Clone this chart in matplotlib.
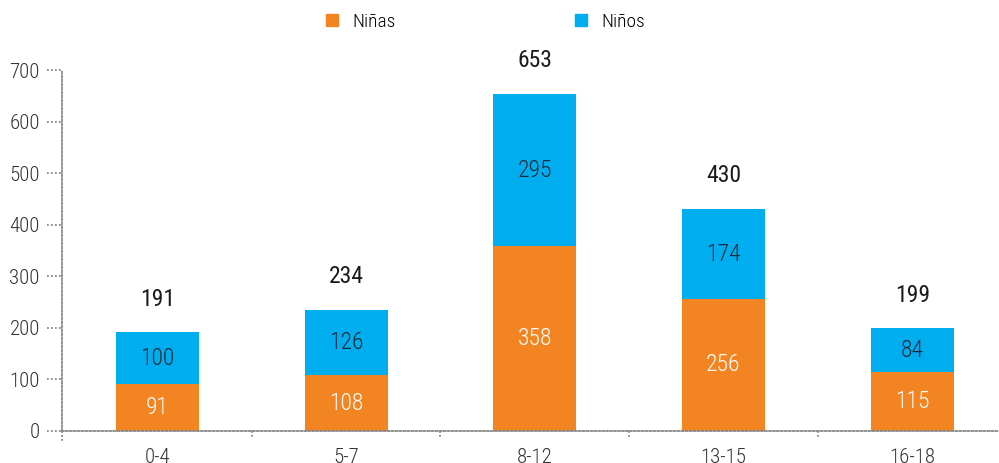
import matplotlib
matplotlib.use("Agg")
import matplotlib.pyplot as plt
from matplotlib.patches import Patch
import numpy as np

categories = ["0-4", "5-7", "8-12", "13-15", "16-18"]
ninas = [91, 108, 358, 256, 115]
ninos = [100, 126, 295, 174, 84]
totals = [191, 234, 653, 430, 199]
yticks = [0, 100, 200, 300, 400, 500, 600, 700]

ORANGE = "#F28522"
BLUE = "#00AEEF"
FONT = ["Roboto Condensed", "DejaVu Sans"]
plt.rcParams["font.family"] = FONT

fig = plt.figure(figsize=(9.99, 4.63), dpi=100)
ax = fig.add_axes([62/999, 32/463, 937/999, 361/463])

x = np.arange(len(categories))
w = 0.44
ax.bar(x, ninas, w, color=ORANGE, zorder=2)
ax.bar(x, ninos, w, bottom=ninas, color=BLUE, zorder=2)

for i in range(len(categories)):
    ax.text(x[i], ninas[i] / 2, str(ninas[i]), ha="center", va="center",
            color="white", fontsize=17, fontweight="light")
    ax.text(x[i], ninas[i] + ninos[i] / 2, str(ninos[i]), ha="center", va="center",
            color="#1b2a38", fontsize=17, fontweight="light")
    ax.annotate(str(totals[i]), (x[i], ninas[i] + ninos[i]), xytext=(0, 24),
                textcoords="offset points", ha="center", va="center",
                fontsize=17, color="#1a1a1a")

ax.set_ylim(0, 700)
ax.set_xlim(-0.505, 4.46)
ax.set_yticks(yticks)
ax.set_yticklabels([str(v) for v in yticks], fontsize=15, color="#333333",
                   fontweight="light")
ax.set_xticks(x)
ax.set_xticklabels(categories, fontsize=15, color="#333333", fontweight="light")
ax.tick_params(axis="x", length=0, pad=12)
ax.tick_params(axis="y", length=0, pad=16)

for sp in ["top", "right"]:
    ax.spines[sp].set_visible(False)
for sp in ["left", "bottom"]:
    ax.spines[sp].set_linestyle((0, (1, 1.2)))
    ax.spines[sp].set_color("#888888")
    ax.spines[sp].set_linewidth(1.3)

# small dotted tick marks
for v in yticks:
    ax.plot([-0.505 - 0.08, -0.505], [v, v], ls=(0, (1, 1.2)), color="#888888",
            lw=1.3, clip_on=False, zorder=3)
ax.plot([-0.505, -0.505], [0, -20], ls=(0, (1, 1.2)), color="#888888", lw=1.3,
        clip_on=False)
for b in x[:-1] + 0.5:
    ax.plot([b, b], [0, -14], ls=(0, (1, 1.2)), color="#888888", lw=1.3, clip_on=False)

handles = [Patch(color=ORANGE, label="Niñas"), Patch(color=BLUE, label="Niños")]
fig.legend(handles=handles, loc="center", bbox_to_anchor=(0.486, 0.953), ncol=2,
           frameon=False, handlelength=0.62, handleheight=0.62,
           columnspacing=9.2, handletextpad=0.75,
           prop={"family": FONT, "weight": "light", "size": 14})

fig.savefig("out.png", dpi=100)
